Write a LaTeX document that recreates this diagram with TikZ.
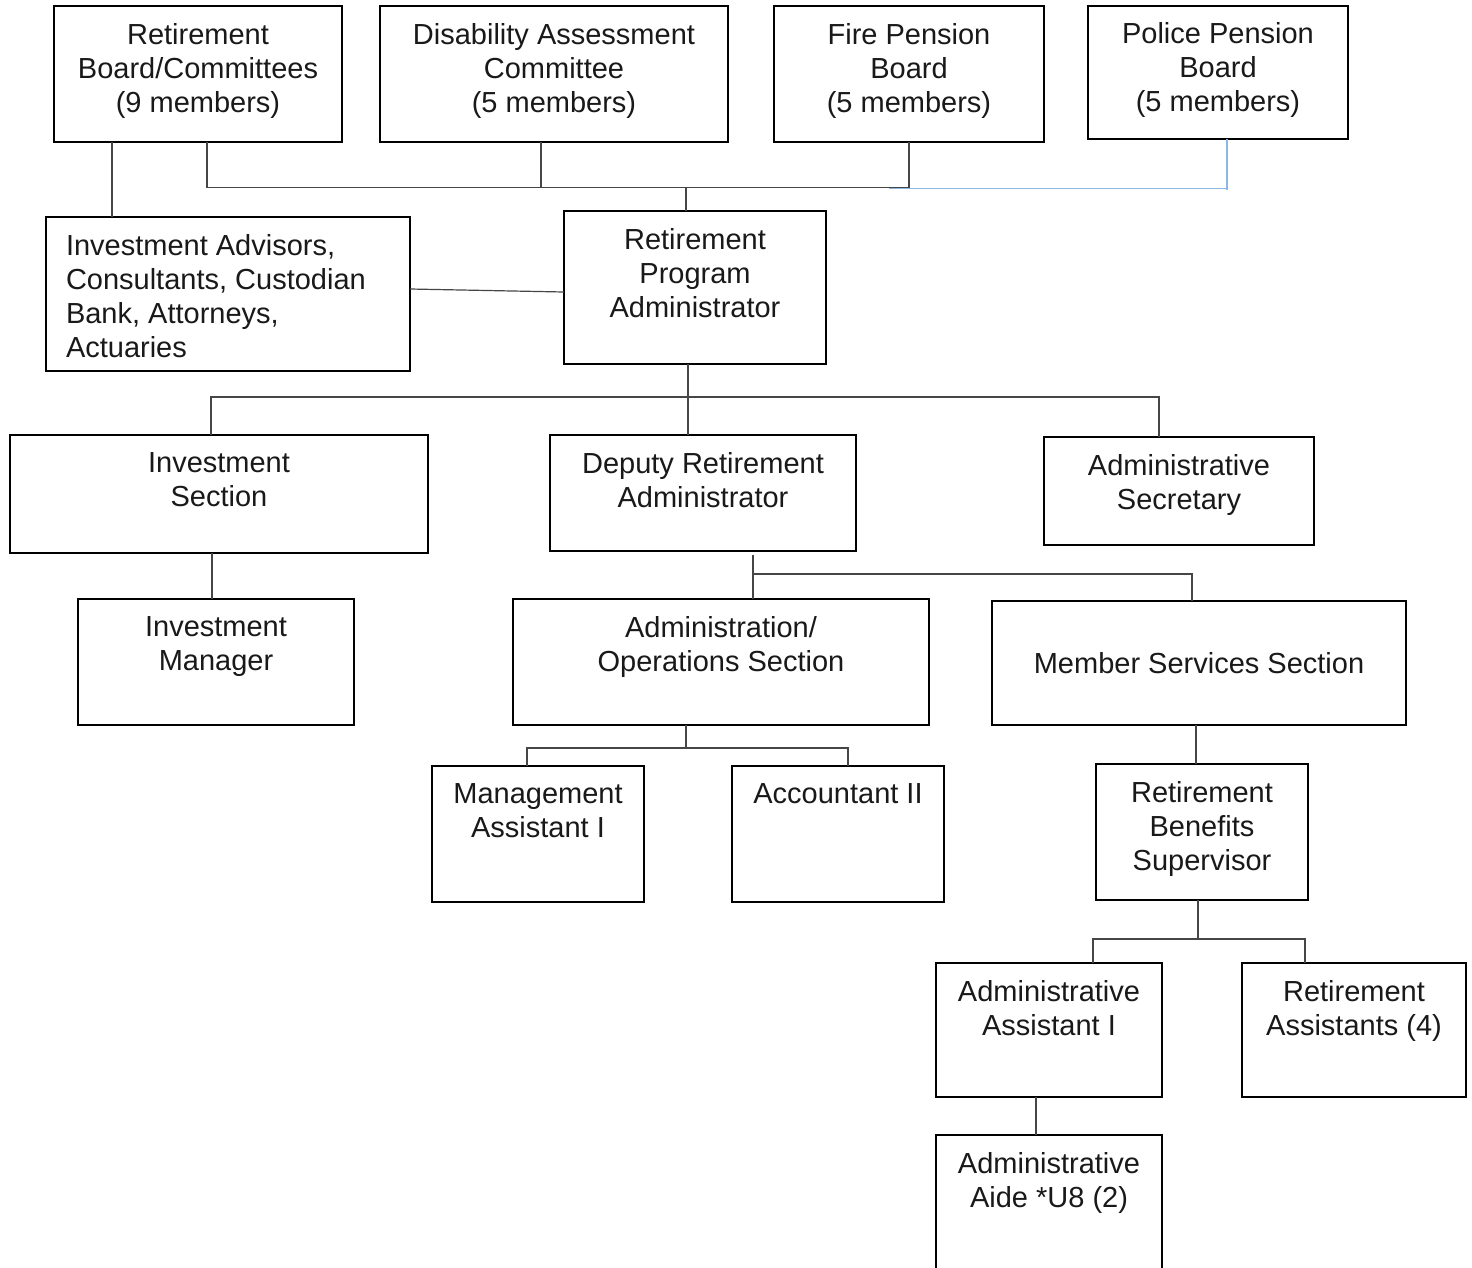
\documentclass[tikz,border=0pt]{standalone}
\usepackage{fontspec}
\setmainfont{Liberation Sans}
\definecolor{bluelink}{RGB}{140,182,228}
\definecolor{conncol}{RGB}{70,70,70}
\begin{document}
\begin{tikzpicture}[x=1pt,y=-1pt,
  every node/.style={font=\fontsize{29}{34}\selectfont},
  box/.style={draw=black, line width=1.8pt, rectangle, inner sep=0pt, outer sep=0pt},
  txt/.style={inner sep=0pt, outer sep=0pt, align=center, text=black!90},
  conn/.style={draw=conncol, line width=1.2pt},
  blueconn/.style={draw=bluelink, line width=1.6pt}]
\useasboundingbox (0,0) rectangle (1472,1267);
\clip (0,0) rectangle (1472,1267);
\fill[white] (0,0) rectangle (1472,1267);

% boxes
\node[box, minimum width=288pt, minimum height=136pt] (rb) at (198,74) {};
\node[box, minimum width=348pt, minimum height=136pt] (dac) at (554,74) {};
\node[box, minimum width=270pt, minimum height=136pt] (fpb) at (909,74) {};
\node[box, minimum width=260pt, minimum height=133pt] (ppb) at (1218,72.5) {};
\node[box, minimum width=364pt, minimum height=154pt] (ia) at (228,294) {};
\node[box, minimum width=262pt, minimum height=153pt] (rpa) at (695,287.5) {};
\node[box, minimum width=418pt, minimum height=118pt] (is) at (219,494) {};
\node[box, minimum width=306pt, minimum height=116pt] (dra) at (703,493) {};
\node[box, minimum width=270pt, minimum height=108pt] (as) at (1179,491) {};
\node[box, minimum width=276pt, minimum height=126pt] (im) at (216,662) {};
\node[box, minimum width=416pt, minimum height=126pt] (aos) at (721,662) {};
\node[box, minimum width=414pt, minimum height=124pt] (mss) at (1199,663) {};
\node[box, minimum width=212pt, minimum height=136pt] (ma) at (538,834) {};
\node[box, minimum width=212pt, minimum height=136pt] (acc) at (838,834) {};
\node[box, minimum width=212pt, minimum height=136pt] (rbs) at (1202,832) {};
\node[box, minimum width=226pt, minimum height=134pt] (aa) at (1049,1030) {};
\node[box, minimum width=224pt, minimum height=134pt] (ra) at (1354,1030) {};
\node[box, minimum width=226pt, minimum height=155pt] (aide) at (1049,1212.5) {};

% texts
\node[txt, anchor=north] (rbt) at ([yshift=-17.5pt]rb.north) {Retirement\\Board/Committees\\(9 members)};
\node[txt, anchor=north] (dact) at ([yshift=-17.5pt]dac.north) {Disability Assessment\\Committee\\(5 members)};
\node[txt, anchor=north] (fpbt) at ([yshift=-17.5pt]fpb.north) {Fire Pension\\Board\\(5 members)};
\node[txt, anchor=north] (ppbt) at ([yshift=-16.5pt]ppb.north) {Police Pension\\Board\\(5 members)};
\node[txt, anchor=north west, align=left] (iat) at (66,234.5) {Investment Advisors,\\Consultants, Custodian\\Bank, Attorneys,\\Actuaries};
\node[txt, anchor=north] (rpat) at ([yshift=-17.5pt]rpa.north) {Retirement\\Program\\Administrator};
\node[txt, anchor=north] (ist) at ([yshift=-17.5pt]is.north) {Investment\\Section};
\node[txt, anchor=north] (drat) at ([yshift=-17.5pt]dra.north) {Deputy Retirement\\Administrator};
\node[txt, anchor=north] (ast) at ([yshift=-17.5pt]as.north) {Administrative\\Secretary};
\node[txt, anchor=north] (imt) at ([yshift=-17.5pt]im.north) {Investment\\Manager};
\node[txt, anchor=north] (aost) at ([yshift=-17.5pt]aos.north) {Administration/\\Operations Section};
\node[txt] (msst) at (mss.center) {Member Services Section};
\node[txt, anchor=north] (mat) at ([yshift=-17.5pt]ma.north) {Management\\Assistant I};
\node[txt, anchor=north] (acct) at ([yshift=-17.5pt]acc.north) {Accountant II};
\node[txt, anchor=north] (rbst) at ([yshift=-17.5pt]rbs.north) {Retirement\\Benefits\\Supervisor};
\node[txt, anchor=north] (aat) at ([yshift=-17.5pt]aa.north) {Administrative\\Assistant I};
\node[txt, anchor=north] (rat) at ([yshift=-17.5pt]ra.north) {Retirement\\Assistants (4)};
\node[txt, anchor=north] (aidet) at ([yshift=-17.5pt]aide.north) {Administrative\\Aide *U8 (2)};

% connectors
\draw[conn] ([xshift=-86pt]rb.south) -- ([xshift=-116pt]ia.north);
\draw[conn] ([xshift=9pt]rb.south) |- ([yshift=-45.5pt]fpb.south);
\draw[conn] ([xshift=-13pt]dac.south) -- ++(0,45.5);
\draw[conn] (fpb.south) -- ++(0,45.5);
\draw[blueconn] ([xshift=9pt]ppb.south) -- ++(0,51);
\draw[blueconn] ([xshift=9pt,yshift=-49.5pt]ppb.south) -- ([xshift=-20pt,yshift=-46.5pt]fpb.south);
\draw[conn] ([xshift=-9pt]rpa.north) -- ++(0,-24);
\draw[conn] ([yshift=5pt]ia.east) -- ([yshift=-4.5pt]rpa.west);
\draw[conn] ([xshift=-7pt]rpa.south) -- ([xshift=-15pt]dra.north);
\draw[conn] ([xshift=-8pt]is.north) -- ++(0,-38) -| ([xshift=-20pt]as.north);
\draw[conn] ([xshift=-7pt]is.south) -- ([xshift=-4pt]im.north);
\draw[conn] ([xshift=50pt,yshift=-4pt]dra.south) -- ([xshift=32pt]aos.north);
\draw[conn] ([xshift=50pt,yshift=-23pt]dra.south) -| ([xshift=-7pt]mss.north);
\draw[conn] ([xshift=-35pt]aos.south) -- ++(0,23);
\draw[conn] ([xshift=-11pt]ma.north) -- ++(0,-18) -| ([xshift=10pt]acc.north);
\draw[conn] ([xshift=-3pt]mss.south) -- ([xshift=-6pt]rbs.north);
\draw[conn] ([xshift=-4pt]rbs.south) -- ++(0,39);
\draw[conn] ([xshift=44pt]aa.north) -- ++(0,-24) -| ([xshift=-49pt]ra.north);
\draw[conn] ([xshift=-13pt]aa.south) -- ([xshift=-13pt]aide.north);
\end{tikzpicture}
\end{document}
